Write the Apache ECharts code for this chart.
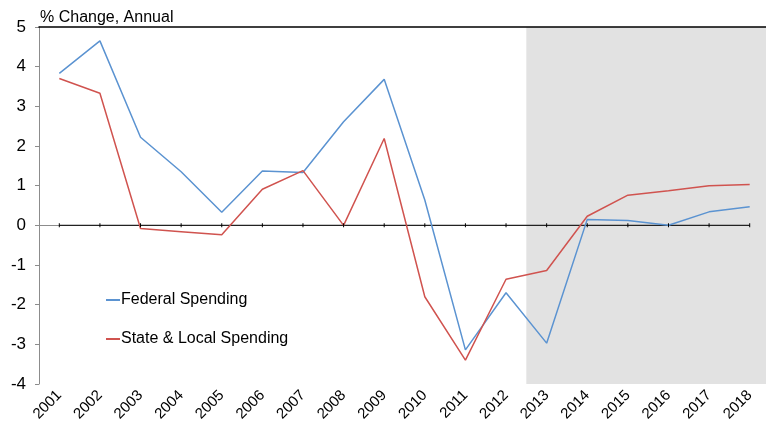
<!DOCTYPE html>
<html>
<head>
<meta charset="utf-8">
<script src="https://cdn.jsdelivr.net/npm/echarts@6/dist/echarts.min.js"></script>
<style>
html, body { margin: 0; padding: 0; background: #fff; }
#chart { width: 766px; height: 431px; }
</style>
</head>
<body>
<div id="chart"></div>
<script>
var years = ['2001','2002','2003','2004','2005','2006','2007','2008','2009',
             '2010','2011','2012','2013','2014','2015','2016','2017','2018'];
var federal = [3.83, 4.65, 2.22, 1.35, 0.33, 1.37, 1.33, 2.61, 3.68,
               0.64, -3.14, -1.70, -2.97, 0.15, 0.12, 0.00, 0.34, 0.47];
var stateLocal = [3.70, 3.33, -0.08, -0.16, -0.24, 0.91, 1.38, 0.00, 2.19,
                  -1.80, -3.40, -1.36, -1.14, 0.23, 0.76, 0.87, 1.00, 1.03];
var zeroLine = years.map(function () { return 0; });
var shadeFrom = 12, shadeTo = 18;   // forecast band, 2013 to 2018

var font = '"Liberation Sans", Arial, sans-serif';

var myChart = echarts.init(document.getElementById('chart'));

var option = {
    animation: false,
    title: {
        text: '% Change, Annual',
        left: 35,
        top: 5,
        textStyle: { fontFamily: font, fontSize: 16, fontWeight: 'normal', color: '#000' }
    },
    legend: {
        data: ['Federal Spending', 'State & Local Spending'],
        orient: 'vertical',
        left: 101,
        top: 287,
        itemGap: 23,
        itemWidth: 14,
        itemHeight: 2,
        icon: 'rect',
        textStyle: { fontFamily: font, fontSize: 16, color: '#000', padding: [0, 0, 0, -4] }
    },
    grid: { left: 39, top: 27, width: 731, bottom: 47, outerBoundsMode: 'none' },
    xAxis: [
        {
            type: 'category',
            data: years,
            boundaryGap: true,
            axisLine: { lineStyle: { color: '#8c8c8c', width: 1 } },
            axisTick: { length: 4, lineStyle: { color: '#8c8c8c' } },
            axisLabel: {
                rotate: 45,
                margin: 9,
                fontFamily: font,
                fontSize: 15,
                color: '#000'
            }
        },
        {
            type: 'category',
            data: years,
            position: 'top',
            z: 10,
            axisLine: { lineStyle: { color: '#000', width: 1.5 } },
            axisTick: { show: false },
            axisLabel: { show: false }
        },
        {
            type: 'value',
            min: 0,
            max: 18,
            show: false
        }
    ],
    yAxis: {
        type: 'value',
        min: -4,
        max: 5,
        interval: 1,
        axisLine: { show: true, lineStyle: { color: '#8c8c8c', width: 1 } },
        axisTick: { show: true, length: 4, lineStyle: { color: '#8c8c8c' } },
        splitLine: { show: false },
        axisLabel: { fontFamily: font, fontSize: 17, color: '#000', margin: 13 }
    },
    series: [
        {
            name: 'shade',
            type: 'line',
            xAxisIndex: 2,
            data: [],
            silent: true,
            z: 0,
            markArea: {
                silent: true,
                itemStyle: { color: '#e2e2e2' },
                data: [[{ xAxis: shadeFrom }, { xAxis: shadeTo }]]
            }
        },
        {
            name: 'zero',
            type: 'line',
            data: zeroLine,
            symbol: 'rect',
            symbolSize: [1, 4],
            itemStyle: { color: '#000' },
            lineStyle: { color: '#222', width: 1.2 },
            silent: true
        },
        {
            name: 'Federal Spending',
            type: 'line',
            data: federal,
            symbol: 'none',
            itemStyle: { color: '#5b93d1' },
            lineStyle: { color: '#5b93d1', width: 1.5 }
        },
        {
            name: 'State & Local Spending',
            type: 'line',
            data: stateLocal,
            symbol: 'none',
            itemStyle: { color: '#d0534f' },
            lineStyle: { color: '#d0534f', width: 1.5 }
        }
    ]
};

myChart.setOption(option);
</script>
</body>
</html>
